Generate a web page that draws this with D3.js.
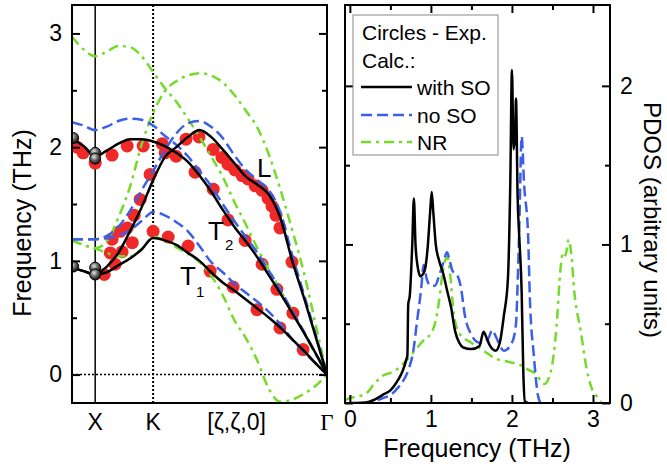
<!DOCTYPE html>
<html><head><meta charset="utf-8">
<script src="https://cdn.jsdelivr.net/npm/d3@7"></script>
<style>body{margin:0;background:#fff} svg{display:block}</style>
</head><body><svg id="c" width="667" height="467"></svg>
<script>
// ---------- Left panel: dispersion along [ζ,ζ,0] ----------
const zeta = [1.1,1.05,1.0,0.95,0.9,0.85,0.8,0.75,0.7,0.65,0.6,0.55,0.5,0.45,0.4,0.35,0.3,0.25,0.2,0.15,0.1,0.05,0];
// with SO (black)
const soT1 = [0.94,0.91,0.88,0.9,0.96,1.02,1.1,1.2,1.18,1.14,1.07,1.0,0.9,0.81,0.74,0.66,0.58,0.5,0.41,0.31,0.21,0.1,0];
const soT2 = [2.07,2.01,1.92,1.97,2.03,2.07,2.07,2.05,2.01,1.95,1.87,1.75,1.61,1.45,1.3,1.17,1.03,0.87,0.71,0.54,0.37,0.19,0];
const soL  = [0.94,0.91,0.88,0.95,1.07,1.26,1.47,1.71,1.91,2.0,2.09,2.15,2.09,1.98,1.86,1.74,1.67,1.58,1.37,1.0,0.68,0.34,0];
// no SO (blue)
const nsT1 = [1.19,1.19,1.19,1.2,1.22,1.27,1.35,1.43,1.4,1.34,1.26,1.13,0.99,0.9,0.8,0.72,0.64,0.55,0.44,0.31,0.2,0.1,0];
const nsT2 = [2.22,2.19,2.15,2.18,2.23,2.25,2.24,2.19,2.1,2.02,1.92,1.79,1.66,1.5,1.35,1.21,1.07,0.91,0.74,0.56,0.38,0.19,0];
const nsL  = [1.19,1.19,1.19,1.22,1.3,1.44,1.62,1.79,1.97,2.12,2.21,2.23,2.18,2.08,1.93,1.8,1.71,1.62,1.42,1.05,0.71,0.36,0];
// NR (green)
const nrT1 = [1.18,1.14,1.11,1.07,1.04,1.04,1.1,1.21,1.18,1.12,1.06,0.99,0.87,0.7,0.48,0.32,0.12,-0.13,-0.24,-0.22,-0.17,-0.1,0];
const nrT2 = [2.97,2.86,2.8,2.84,2.89,2.88,2.8,2.66,2.52,2.4,2.25,2.09,1.92,1.74,1.52,1.32,1.11,0.92,0.74,0.55,0.37,0.18,0];
const nrL  = [1.18,1.14,1.11,1.17,1.38,1.65,2.02,2.3,2.49,2.58,2.63,2.65,2.63,2.57,2.46,2.32,2.17,1.93,1.62,1.27,0.9,0.45,0];
// experimental points (red circles): ζ and frequency
const expZeta = [1.078,1.052,1.0,0.927,0.862,0.793,0.711,0.698,0.651,0.608,0.552,
  0.491,0.453,0.427,0.397,0.366,0.341,0.31,0.28,0.254,0.237,0.22,0.203,0.151,
  0.569,0.491,0.427,0.353,0.28,0.216,0.147,
  0.763,0.806,0.832,0.862,0.892,0.927,0.935,0.914,0.961,
  0.884,0.84,0.75,0.685,0.599,0.504,0.405,0.302,0.203,0.103];
const expFreq = [2.0,1.95,1.86,1.93,2.01,2.01,2.03,1.95,1.92,2.07,2.09,
  1.98,1.91,1.85,1.8,1.75,1.72,1.66,1.62,1.55,1.48,1.4,1.29,0.99,
  1.78,1.63,1.36,1.18,0.97,0.75,0.54,
  1.76,1.54,1.4,1.29,1.26,1.19,1.07,0.97,0.88,
  1.08,1.16,1.26,1.21,1.13,0.91,0.77,0.57,0.41,0.22];
// other measured points (grey spheres)
const refZeta = [1.095,1.0,1.0,1.095,1.0,1.0];
const refFreq = [2.08,1.95,1.9,0.95,0.94,0.88];
const leftYTicks = [0,1,2,3];
const leftYMinor = [0.5,1.5,2.5];
const leftXLabels = ["X","K","[ζ,ζ,0]","Γ"];
const leftXLabelPos = [1.0,0.75,0.39,0.0];

// ---------- Right panel: PDOS ----------
const freqSO = [0,0.2,0.3,0.4,0.5,0.55,0.6,0.65,0.7,0.71,0.72,0.74,0.77,0.79,0.81,0.84,0.87,0.9,0.93,0.96,0.99,1.01,1.03,1.06,1.1,1.15,1.2,1.25,1.3,1.35,1.4,1.5,1.6,1.65,1.68,1.72,1.8,1.85,1.9,1.95,1.98,2.0,2.02,2.04,2.05,2.07,2.09,2.12,2.14,2.16,2.2];
const pdosSO = [0,0.003,0.02,0.05,0.08,0.11,0.15,0.2,0.28,0.3,0.62,0.68,1.0,1.29,1.0,0.85,0.8,0.81,0.85,0.98,1.2,1.33,1.2,1.0,0.9,0.82,0.71,0.6,0.45,0.38,0.35,0.34,0.36,0.45,0.42,0.37,0.33,0.38,0.55,0.78,1.4,2.1,1.6,1.7,1.92,1.3,1.05,0.7,0.2,0.01,0];
const freqNoSO = [0.15,0.3,0.4,0.5,0.6,0.67,0.73,0.78,0.83,0.88,0.91,0.95,1.0,1.05,1.1,1.15,1.2,1.23,1.27,1.32,1.37,1.42,1.5,1.6,1.7,1.76,1.8,1.9,2.0,2.05,2.07,2.09,2.12,2.15,2.2,2.22,2.27,2.32,2.35];
const pdosNoSO = [0,0.01,0.03,0.05,0.1,0.15,0.22,0.32,0.52,0.72,0.87,0.78,0.74,0.74,0.8,0.88,0.95,0.9,0.83,0.81,0.73,0.55,0.43,0.38,0.4,0.46,0.42,0.33,0.38,0.5,0.75,1.1,1.68,1.38,1.05,0.68,0.3,0.05,0];
const freqNR = [-0.06,0,0.2,0.3,0.4,0.5,0.6,0.7,0.8,0.9,1.0,1.05,1.1,1.15,1.2,1.24,1.28,1.35,1.5,1.65,1.8,1.95,2.1,2.2,2.3,2.37,2.4,2.48,2.55,2.6,2.63,2.66,2.7,2.73,2.77,2.85,2.92,2.98,3.05,3.1];
const pdosNR = [0.02,0.03,0.06,0.12,0.17,0.19,0.22,0.27,0.33,0.39,0.44,0.5,0.64,0.84,0.92,0.8,0.57,0.44,0.38,0.33,0.28,0.26,0.24,0.21,0.18,0.13,0.12,0.2,0.48,0.85,0.95,0.93,1.03,0.95,0.7,0.45,0.22,0.1,0.04,0.01];
const rightXTicks = [0,1,2,3];
const rightXMinor = [0.5,1.5,2.5];
const rightYTicks = [0,1,2];
const rightYMinor = [0.5,1.5];
const legendLabels = ["with SO","no SO","NR"];

// ---------- styles ----------
const colSO = "#000", colNS = "#3b5fe6", colNR = "#74dc28", colExp = "#f02828";
const dashNS = "11,5", dashNR = "10,5,3,5";
const FONT = "'Liberation Sans', Arial, sans-serif";
const fmt = d3.format("d");

const svg = d3.select("#c");
const defs = svg.append("defs");
defs.append("clipPath").attr("id","clipL").append("rect").attr("x",72).attr("y",5).attr("width",255).attr("height",398);
defs.append("clipPath").attr("id","clipR").append("rect").attr("x",345).attr("y",5).attr("width",265).attr("height",398);
const grad = defs.append("radialGradient").attr("id","sph").attr("cx","40%").attr("cy","35%").attr("r","65%");
grad.append("stop").attr("offset","0%").attr("stop-color","#e8e8e8");
grad.append("stop").attr("offset","45%").attr("stop-color","#707070");
grad.append("stop").attr("offset","100%").attr("stop-color","#111");

const xL = d3.scaleLinear().domain([1.1,0]).range([72,327]);
const yL = d3.scaleLinear().domain([-0.25,3.25]).range([403,5]);
const xR = d3.scaleLinear().domain([-0.06,3.21]).range([345,610]);
const yR = d3.scaleLinear().domain([0,2.51]).range([403,5]);

// ----- left panel -----
const gL = svg.append("g");
const plotL = gL.append("g").attr("clip-path","url(#clipL)");
plotL.append("line").attr("x1",xL(1.1)).attr("x2",xL(0)).attr("y1",yL(0)).attr("y2",yL(0))
  .attr("stroke","#000").attr("stroke-width",1.5).attr("stroke-dasharray","2,2");
plotL.append("line").attr("x1",xL(1)).attr("x2",xL(1)).attr("y1",5).attr("y2",403)
  .attr("stroke","#000").attr("stroke-width",1.5);
plotL.append("line").attr("x1",xL(0.75)).attr("x2",xL(0.75)).attr("y1",5).attr("y2",403)
  .attr("stroke","#000").attr("stroke-width",2).attr("stroke-dasharray","2,2");

plotL.selectAll("circle.exp").data(expZeta.map((z,i)=>[z,expFreq[i]])).join("circle")
  .attr("class","exp").attr("cx",d=>xL(d[0])).attr("cy",d=>yL(d[1])).attr("r",6.5).attr("fill",colExp);

const lineL = d3.line().x(d=>xL(d[0])).y(d=>yL(d[1])).curve(d3.curveMonotoneX);
function branch(vals,col,dash){
  plotL.append("path").attr("d",lineL(zeta.map((z,i)=>[z,vals[i]])))
    .attr("fill","none").attr("stroke",col).attr("stroke-width",2.5)
    .attr("stroke-dasharray",dash||null).attr("stroke-linejoin","round");
}
[nrT1,nrT2,nrL].forEach(v=>branch(v,colNR,dashNR));
[nsT1,nsT2,nsL].forEach(v=>branch(v,colNS,dashNS));
[soT1,soT2,soL].forEach(v=>branch(v,colSO,null));

plotL.selectAll("circle.ref").data(refZeta.map((z,i)=>[z,refFreq[i]])).join("circle")
  .attr("class","ref").attr("cx",d=>xL(d[0])).attr("cy",d=>yL(d[1])).attr("r",5.5)
  .attr("fill","url(#sph)").attr("stroke","#000").attr("stroke-width",1);

gL.append("g").attr("transform","translate(72,0)")
  .call(d3.axisLeft(yL).tickValues(leftYTicks).tickSize(-8).tickPadding(10).tickFormat(fmt));
gL.append("g").attr("transform","translate(72,0)")
  .call(d3.axisLeft(yL).tickValues(leftYMinor).tickSize(-5).tickFormat(""));
gL.append("g").attr("transform","translate(327,0)")
  .call(d3.axisRight(yL).tickValues(leftYTicks).tickSize(-8).tickFormat(""));
gL.append("g").attr("transform","translate(327,0)")
  .call(d3.axisRight(yL).tickValues(leftYMinor).tickSize(-5).tickFormat(""));
gL.append("rect").attr("x",72).attr("y",5).attr("width",255).attr("height",398)
  .attr("fill","none").attr("stroke","#000").attr("stroke-width",2);

leftXLabels.forEach((t,i)=>{
  gL.append("text").attr("x",xL(leftXLabelPos[i])).attr("y",430).attr("text-anchor","middle")
    .attr("font-size",23).attr("font-family", t==="Γ" ? "'Liberation Serif', 'Times New Roman', serif" : FONT)
    .text(t);
});
gL.append("text").attr("transform","translate(31,223) rotate(-90)").attr("text-anchor","middle")
  .attr("font-size",25).attr("font-family",FONT).text("Frequency (THz)");
gL.append("text").attr("x",257).attr("y",177).attr("font-size",26).attr("font-family",FONT).text("L");
const t2 = gL.append("text").attr("x",208).attr("y",240).attr("font-size",26).attr("font-family",FONT);
t2.append("tspan").text("T"); t2.append("tspan").attr("font-size",15).attr("dy",10).attr("dx",1).text("2");
const t1 = gL.append("text").attr("x",180).attr("y",285).attr("font-size",26).attr("font-family",FONT);
t1.append("tspan").text("T"); t1.append("tspan").attr("font-size",15).attr("dy",12).attr("dx",0).text("1");

// ----- right panel -----
const gR = svg.append("g");
const plotR = gR.append("g").attr("clip-path","url(#clipR)");
const lineR = d3.line().x(d=>xR(d[0])).y(d=>yR(d[1])).curve(d3.curveMonotoneX);
function pdos(fr,vals,col,dash){
  plotR.append("path").attr("d",lineR(fr.map((f,i)=>[f,vals[i]])))
    .attr("fill","none").attr("stroke",col).attr("stroke-width",2.5)
    .attr("stroke-dasharray",dash||null).attr("stroke-linejoin","round");
}
pdos(freqNR,pdosNR,colNR,dashNR);
pdos(freqNoSO,pdosNoSO,colNS,dashNS);
pdos(freqSO,pdosSO,colSO,null);

gR.append("g").attr("transform","translate(0,403)")
  .call(d3.axisBottom(xR).tickValues(rightXTicks).tickSize(-8).tickPadding(8).tickFormat(fmt));
gR.append("g").attr("transform","translate(0,403)")
  .call(d3.axisBottom(xR).tickValues(rightXMinor).tickSize(-5).tickFormat(""));
gR.append("g").attr("transform","translate(0,5)")
  .call(d3.axisTop(xR).tickValues(rightXTicks).tickSize(-8).tickFormat(""));
gR.append("g").attr("transform","translate(0,5)")
  .call(d3.axisTop(xR).tickValues(rightXMinor).tickSize(-5).tickFormat(""));
gR.append("g").attr("transform","translate(610,0)")
  .call(d3.axisRight(yR).tickValues(rightYTicks).tickSize(-8).tickPadding(10).tickFormat(fmt));
gR.append("g").attr("transform","translate(610,0)")
  .call(d3.axisRight(yR).tickValues(rightYMinor).tickSize(-5).tickFormat(""));
gR.append("g").attr("transform","translate(345,0)")
  .call(d3.axisLeft(yR).tickValues(rightYTicks).tickSize(-8).tickFormat(""));
gR.append("g").attr("transform","translate(345,0)")
  .call(d3.axisLeft(yR).tickValues(rightYMinor).tickSize(-5).tickFormat(""));
gR.append("rect").attr("x",345).attr("y",5).attr("width",265).attr("height",398)
  .attr("fill","none").attr("stroke","#000").attr("stroke-width",2);

gR.append("text").attr("x",477).attr("y",457).attr("text-anchor","middle")
  .attr("font-size",25).attr("font-family",FONT).text("Frequency (THz)");
gR.append("text").attr("transform","translate(644,220) rotate(90)").attr("text-anchor","middle")
  .attr("font-size",24).attr("font-family",FONT).text("PDOS (arbitrary units)");

// legend
const lg = gR.append("g");
lg.append("rect").attr("x",353).attr("y",15).attr("width",145).attr("height",140)
  .attr("fill","#fff").attr("stroke","#888").attr("stroke-width",1);
lg.append("text").attr("x",362).attr("y",40).attr("font-size",21).attr("font-family",FONT).text("Circles - Exp.");
lg.append("text").attr("x",362).attr("y",68).attr("font-size",21).attr("font-family",FONT).text("Calc.:");
const legCols = [colSO,colNS,colNR], legDash = [null,dashNS,dashNR], legY = [87,115,142];
legendLabels.forEach((t,i)=>{
  lg.append("line").attr("x1",361).attr("x2",412).attr("y1",legY[i]).attr("y2",legY[i])
    .attr("stroke",legCols[i]).attr("stroke-width",2.5).attr("stroke-dasharray",legDash[i]);
  lg.append("text").attr("x",417).attr("y",legY[i]+8).attr("font-size",21).attr("font-family",FONT).text(t);
});

svg.selectAll(".domain").remove();
svg.selectAll(".tick line").attr("stroke","#000").attr("stroke-width",2);
svg.selectAll(".tick text").attr("font-size",23).attr("font-family",FONT).attr("fill","#000");
</script></body></html>
